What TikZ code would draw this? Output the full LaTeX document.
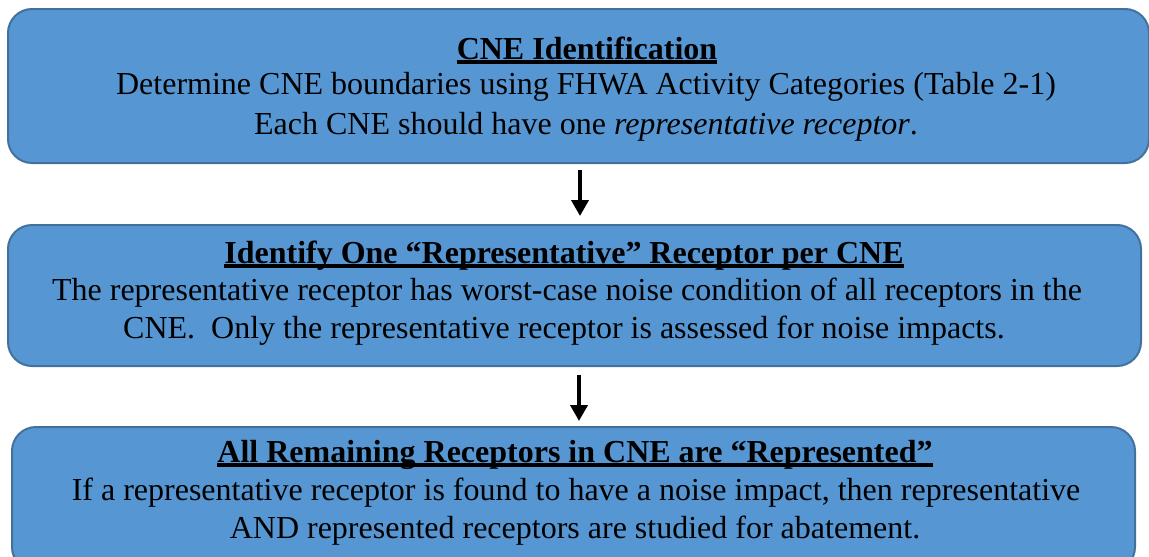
\documentclass[tikz,border=0pt]{standalone}
\usepackage{fontspec}
\setmainfont{Liberation Serif}
\usetikzlibrary{arrows.meta}
\definecolor{boxfill}{RGB}{86,151,211}
\definecolor{boxline}{RGB}{65,113,156}
\begin{document}
\begin{tikzpicture}[x=1pt,y=-1pt,
  box/.style={draw=boxline, line width=2pt, fill=boxfill, rounded corners=24pt, inner sep=0pt, anchor=north west},
  txt/.style={inner sep=0pt, anchor=base, font=\fontsize{32}{38}\selectfont},
  ttl/.style={txt, font=\fontsize{32}{38}\selectfont\bfseries},
  uline/.style={line width=4pt},
  arr/.style={line width=3.8pt, -{Triangle[width=17pt,length=16pt]}}]
\useasboundingbox (0,0) rectangle (1149,557);
\begin{scope}
\clip (0,0) rectangle (1149,557);
\node[box, minimum width=1141pt, minimum height=154pt] (b1) at (7,8) {};
\node[box, minimum width=1133pt, minimum height=141pt] (b2) at (7,224) {};
\node[box, minimum width=1123pt, minimum height=144pt] (b3) at (11,426) {};
\end{scope}
% box 1
\node[ttl] (t1) at (587,59) {CNE Identification};
\node[txt] (t1a) at (586,94) {Determine CNE boundaries using FHWA Activity Categories (Table 2-1)};
\node[txt] (t1b) at (586,134) {Each CNE should have one \textit{representative receptor}.};
% box 2
\node[ttl] (t2) at (564,263) {Identify One “Representative” Receptor per CNE};
\node[txt] (t2a) at (567,300) {The representative receptor has worst-case noise condition of all receptors in the};
\node[txt] (t2b) at (564,338) {CNE.\ \ Only the representative receptor is assessed for noise impacts.};
% box 3
\node[ttl] (t3) at (575,462) {All Remaining Receptors in CNE are “Represented”};
\node[txt] (t3a) at (576,500) {If a representative receptor is found to have a noise impact, then representative};
\node[txt] (t3b) at (575,538) {AND represented receptors are studied for abatement.};
% underlines
\foreach \t in {t1,t2,t3}
  \draw[uline] ([yshift=-2.5pt]\t.base west) -- ([yshift=-2.5pt]\t.base east);
% arrows
\draw[arr] ([xshift=1.5pt,yshift=-6pt]b1.south) -- ([xshift=1.5pt,yshift=8pt]b1.south |- b2.north);
\draw[arr] ([xshift=4.5pt,yshift=-8pt]b2.south) -- ([xshift=4.5pt,yshift=5pt]b2.south |- b3.north);
\end{tikzpicture}
\end{document}
